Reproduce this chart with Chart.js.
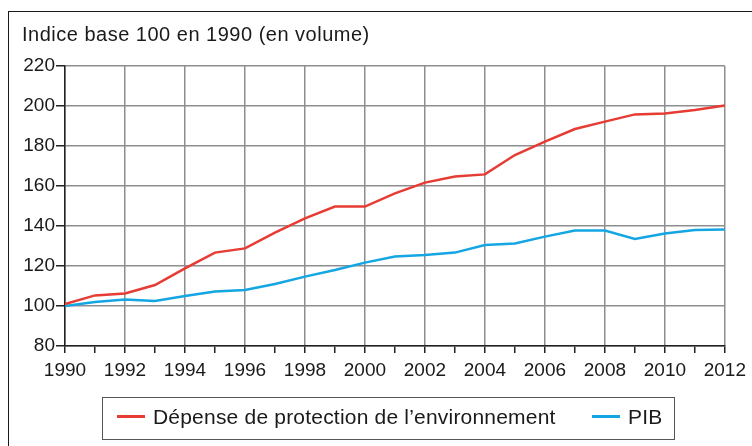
<!DOCTYPE html>
<html lang="fr">
<head>
<meta charset="utf-8">
<title>Dépense de protection de l'environnement et PIB</title>
<script src="https://cdn.jsdelivr.net/npm/chart.js@4.4.0/dist/chart.umd.min.js"></script>
<style>
    body { margin: 0; background: #fff; font-family: "Liberation Sans", Arial, sans-serif; color: #1a1a1a; }
    #wrap { position: relative; width: 752px; height: 446px; overflow: hidden; }
    #frame { position: absolute; left: 8px; top: 11px; width: 800px; height: 500px; border: 1.5px solid #1a1a1a; }
    #title { position: absolute; left: 22px; top: 23px; font-size: 20px; letter-spacing: 0.5px; white-space: nowrap; }
    #chart { position: absolute; left: 0; top: 0; }
    #legend { position: absolute; left: 102px; top: 397px; width: 573px; height: 43px; border: 1.5px solid #555;
              box-sizing: border-box; font-size: 21px; letter-spacing: 0.2px; }
    .item { position: absolute; top: 7px; white-space: nowrap; }
    .swatch { display: inline-block; width: 28px; height: 3px; vertical-align: middle; margin-right: 8px; margin-top: -3px; }
</style>
</head>
<body>
<div id="wrap">
    <div id="frame"></div>
    <canvas id="chart" width="752" height="446"></canvas>
    <div id="title">Indice base 100 en 1990 (en volume)</div>
    <div id="legend"></div>
</div>
<script>
"use strict";

const years = [1990, 1991, 1992, 1993, 1994, 1995, 1996, 1997, 1998, 1999, 2000, 2001,
               2002, 2003, 2004, 2005, 2006, 2007, 2008, 2009, 2010, 2011, 2012];
const depense = [101, 105.3, 106.3, 110.5, 118.8, 126.7, 128.8, 136.7, 143.8, 149.7, 149.7, 156.3,
                 161.7, 164.7, 165.8, 175.5, 182.2, 188.5, 192.2, 195.8, 196.3, 198, 200.2];
const pib = [100, 102, 103.3, 102.5, 105, 107.2, 108, 111, 114.7, 118, 121.7, 124.7,
             125.5, 126.7, 130.5, 131.3, 134.7, 137.7, 137.7, 133.5, 136.3, 138, 138.3];
const yMin = 80;
const yMax = 220;
const yStep = 20;

const seriesLabels = ["Dépense de protection de l’environnement", "PIB"];
const seriesColors = ['#e63c34', '#14a6e3'];

const GRID = '#8e8e8e';
const AXIS = '#222222';
const TICK_FONT = { family: '"Liberation Sans", Arial, sans-serif', size: 19 };

function toPoints(values) {
    return years.map((year, i) => ({ x: year, y: values[i] }));
}

const ctx = document.getElementById('chart').getContext('2d');

new Chart(ctx, {
    type: 'line',
    data: {
        datasets: [
            { label: seriesLabels[0], data: toPoints(depense), borderColor: seriesColors[0], borderWidth: 2.5, pointRadius: 0, tension: 0 },
            { label: seriesLabels[1], data: toPoints(pib), borderColor: seriesColors[1], borderWidth: 2.5, pointRadius: 0, tension: 0 }
        ]
    },
    options: {
        responsive: false,
        animation: false,
        layout: { padding: { left: 0, top: 66, right: 25, bottom: 65 } },
        plugins: { legend: { display: false }, tooltip: { enabled: false } },
        scales: {
            x: {
                type: 'linear',
                min: years[0],
                max: years[years.length - 1],
                afterFit: (scale) => { scale.height = 35; },
                border: { color: AXIS, width: 1.5 },
                grid: {
                    color: (c) => (c.tick && c.tick.value % 2 === 0) ? GRID : 'rgba(0,0,0,0)',
                    tickColor: AXIS,
                    lineWidth: 1.5,
                    tickLength: 7
                },
                ticks: {
                    stepSize: 1,
                    autoSkip: false,
                    maxRotation: 0,
                    padding: 6,
                    color: '#1a1a1a',
                    font: TICK_FONT,
                    callback: (v) => v % 2 === 0 ? String(v) : ''
                }
            },
            y: {
                min: yMin,
                max: yMax,
                afterFit: (scale) => { scale.width = 65; },
                border: { color: AXIS, width: 1.5 },
                grid: { color: GRID, tickColor: AXIS, lineWidth: 1.5, tickLength: 9 },
                ticks: {
                    stepSize: yStep,
                    padding: 1,
                    color: '#1a1a1a',
                    font: TICK_FONT
                }
            }
        }
    }
});

// HTML legend with a frame, built from the series
const legend = document.getElementById('legend');
const itemLeft = [14, 489];
seriesLabels.forEach((label, i) => {
    const item = document.createElement('div');
    item.className = 'item';
    item.style.left = itemLeft[i] + 'px';
    item.innerHTML = '<span class="swatch" style="background:' + seriesColors[i] + '"></span>' + label;
    legend.appendChild(item);
});
</script>
</body>
</html>
